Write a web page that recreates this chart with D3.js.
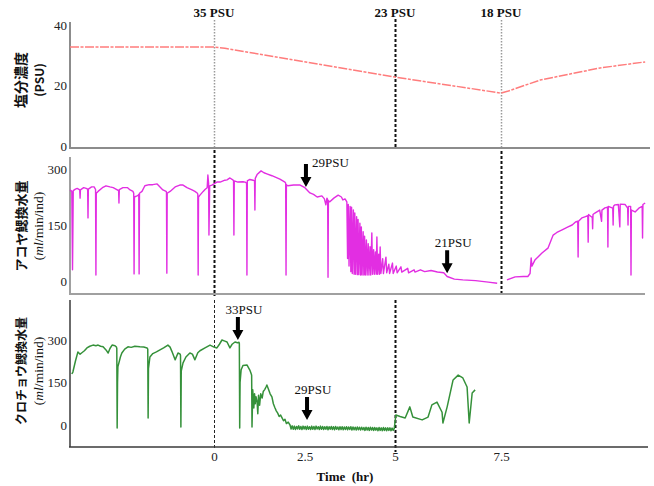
<!DOCTYPE html>
<html>
<head>
<meta charset="utf-8">
<script src="https://cdn.jsdelivr.net/npm/d3@7"></script>
<style>
body { margin: 0; background: #fff; }
svg { display: block; font-family: "Liberation Serif", "DejaVu Serif", serif; }
text { font-family: "Liberation Serif", "DejaVu Serif", serif; fill: #111; }
.jp { font-family: "Noto Sans CJK JP", sans-serif; font-weight: bold; }
</style>
</head>
<body>
<div class="chart"></div>
<script>
// ---- data (time in hr, salinity in PSU, flow in ml/min/ind) ----
const xTicks = [0, 2.5, 5, 7.5];
const salinityTicks = [0, 20, 40];
const flowTicks = [0, 150, 300];

const salinity = [[-4, 32.7], [0, 32.7], [0.3, 32.3], [5, 22.8], [7.5, 17.5], [7.7, 18.2],
  [8.55, 21.8], [10.16, 25.8], [11.37, 27.8]];

const psuMarks = [
  {t: 0, label: '35 PSU', kind: 'dot'},
  {t: 5, label: '23 PSU', kind: 'dash'},
  {t: 7.5, label: '18 PSU', kind: 'dot'}
];

// アコヤ
const akoya = [
  [-4.00,244],[-3.95,240],[-3.93,30],[-3.91,242],[-3.85,246],[-3.80,248],[-3.73,244],[-3.72,222],[-3.71,244],
  [-3.62,250],[-3.55,248],[-3.51,246],[-3.50,169],[-3.49,246],[-3.40,252],[-3.33,252],[-3.29,245],[-3.28,16],
  [-3.27,235],[-3.22,240],[-3.10,250],[-3.00,255],[-2.89,252],[-2.80,250],[-2.70,245],[-2.65,242],[-2.64,209],
  [-2.63,245],[-2.53,250],[-2.40,250],[-2.33,244],[-2.25,240],[-2.23,235],[-2.22,19],[-2.21,225],[-2.14,228],
  [-2.10,230],[-2.09,232],[-2.08,19],[-2.07,235],[-2.00,240],[-1.92,255],[-1.80,258],[-1.70,258],[-1.58,260],
  [-1.50,252],[-1.42,244],[-1.33,240],[-1.32,238],[-1.31,21],[-1.30,235],[-1.22,240],[-1.08,252],[-0.95,257],
  [-0.86,257],[-0.75,250],[-0.61,244],[-0.53,240],[-0.46,235],[-0.45,232],[-0.44,16],[-0.43,225],[-0.39,230],
  [-0.30,240],[-0.25,245],[-0.19,250],[-0.17,284],[-0.15,262],[-0.14,123],[-0.12,255],[-0.06,257],[0.08,265],
  [0.17,265],[0.30,270],[0.36,271],[0.44,276],[0.53,270],[0.54,268],[0.55,123],[0.56,268],[0.66,265],[0.80,266],
  [0.86,265],[0.90,262],[0.91,16],[0.92,268],[0.99,272],[1.08,270],[1.12,268],[1.13,190],[1.14,275],[1.19,285],
  [1.30,295],[1.38,290],[1.46,287],[1.60,282],[1.82,273],[1.96,265],[1.98,262],[1.99,16],[2.00,258],[2.04,255],
  [2.20,257],[2.38,257],[2.51,250],[2.65,236],[2.75,232],[2.85,225],[2.98,228],[3.05,220],[3.09,204],[3.12,222],
  [3.14,218],[3.15,10],[3.16,215],[3.20,212],[3.31,222],[3.43,230],[3.52,225],[3.56,217],[3.62,220],
  [3.67,212],[3.69,60],[3.71,205],[3.73,40],[3.76,200],[3.78,25],[3.80,198],[3.82,20],[3.85,190],[3.87,18],
  [3.89,182],[3.91,18],[3.94,172],[3.96,17],[3.98,165],[4.00,17],[4.03,155],[4.05,16],[4.07,145],[4.09,16],
  [4.12,132],[4.14,16],[4.16,120],[4.18,16],[4.21,110],[4.23,16],[4.26,100],[4.28,16],[4.31,92],[4.33,16],
  [4.36,129],[4.38,18],[4.41,84],[4.43,18],[4.46,78],[4.48,18],[4.50,118],[4.52,18],[4.55,72],[4.57,18],
  [4.59,91],[4.61,20],[4.66,60],[4.68,20],[4.75,64],[4.77,22],[4.83,45],[4.85,20],[4.93,48],[4.95,20],
  [5.03,40],[5.05,22],[5.14,38],[5.16,24],[5.30,34],[5.32,22],[5.45,30],[5.47,24],[5.60,30],[5.70,25],
  [5.85,28],[6.00,24],[6.15,22],[6.23,12],[6.40,5],[6.60,3],[6.90,1],[7.20,-3],[7.41,-6],
  [7.50,null],
  [7.66,3],[7.88,11],[8.10,12],[8.22,12],[8.28,20],[8.31,62],[8.33,40],[8.41,56],[8.50,65],[8.60,75],[8.76,88],
  [8.90,123],[9.00,130],[9.14,137],[9.30,145],[9.41,150],[9.50,158],[9.56,160],[9.57,64],[9.58,160],[9.67,169],
  [9.75,172],[9.83,175],[9.84,104],[9.85,178],[9.95,170],[9.96,140],[9.97,178],[10.02,182],[10.15,190],
  [10.20,160],[10.21,190],[10.29,196],[10.36,198],[10.37,91],[10.38,200],[10.50,195],[10.51,150],[10.52,200],
  [10.56,204],[10.65,205],[10.69,145],[10.70,206],[10.83,205],[10.90,195],[10.91,150],[10.92,200],[10.98,200],
  [10.99,16],[11.00,190],[11.10,185],[11.20,195],[11.29,200],[11.30,115],[11.31,205],[11.37,209]
];

// クロチョウ
const kurochou = [
  [-3.95,180],[-3.92,187],[-3.85,225],[-3.78,258],[-3.72,250],[-3.67,255],[-3.60,262],[-3.53,272],[-3.45,278],
  [-3.36,282],[-3.28,280],[-3.22,282],[-3.15,278],[-3.08,276],[-3.00,265],[-2.94,254],[-2.89,270],[-2.83,282],
  [-2.75,280],[-2.71,275],[-2.70,270],[-2.69,-11],[-2.68,150],[-2.67,205],[-2.60,240],[-2.56,254],[-2.48,268],
  [-2.39,276],[-2.30,274],[-2.20,278],[-2.06,276],[-1.95,275],[-1.86,272],[-1.84,268],[-1.83,25],[-1.82,200],
  [-1.78,240],[-1.70,252],[-1.60,258],[-1.50,265],[-1.40,272],[-1.28,282],[-1.22,275],[-1.17,260],[-1.08,230],
  [-1.00,254],[-0.94,250],[-0.93,245],[-0.92,-7],[-0.91,190],[-0.86,219],[-0.78,240],[-0.67,254],[-0.60,250],
  [-0.53,230],[-0.45,255],[-0.39,262],[-0.25,272],[-0.11,282],[0.00,275],[0.08,272],[0.15,285],[0.22,300],
  [0.30,296],[0.36,293],[0.44,272],[0.50,285],[0.58,293],[0.65,290],[0.69,292],[0.70,288],[0.71,-11],[0.72,150],
  [0.75,195],[0.80,210],[0.91,212],[0.99,194],[1.03,180],[1.04,175],[1.05,-7],[1.07,124],[1.10,60],[1.12,110],
  [1.14,75],[1.16,100],[1.19,81],[1.21,40],[1.23,105],[1.26,70],[1.29,110],[1.33,95],[1.36,118],[1.40,125],
  [1.44,135],[1.46,141],[1.50,128],[1.55,110],[1.60,99],[1.64,75],[1.68,62],[1.72,50],[1.76,42],[1.80,30],
  [1.84,35],[1.88,25],[1.92,15],[1.96,20],[2.00,5],[2.05,10],
  [2.10,0],[2.13,-14],[2.16,-3],[2.19,-15],[2.22,-4],[2.25,-16],[2.28,-5],[2.31,-14],[2.34,-3],[2.37,-15],
  [2.40,-5],[2.43,-16],[2.46,-4],[2.49,-14],[2.52,-5],[2.55,-16],[2.58,-4],[2.61,-15],[2.64,-6],[2.67,-16],
  [2.70,-4],[2.73,-15],[2.76,-5],[2.79,-16],[2.82,-4],[2.85,-14],[2.88,-6],[2.91,-16],[2.94,-4],[2.97,-15],
  [3.00,-5],[3.03,-16],[3.06,-6],[3.09,-15],[3.12,-5],[3.15,-17],[3.18,-6],[3.21,-15],[3.24,-5],[3.27,-16],
  [3.30,-6],[3.33,-17],[3.36,-5],[3.39,-15],[3.42,-7],[3.45,-17],[3.48,-6],[3.51,-16],[3.54,-6],[3.57,-17],
  [3.60,-7],[3.63,-16],[3.66,-6],[3.69,-17],[3.72,-7],[3.75,-16],[3.78,-6],[3.81,-18],[3.84,-7],[3.87,-17],
  [3.90,-8],[3.93,-18],[3.96,-7],[3.99,-17],[4.02,-8],[4.05,-18],[4.08,-8],[4.11,-17],[4.14,-9],[4.17,-19],
  [4.20,-8],[4.23,-18],[4.26,-9],[4.29,-19],[4.32,-8],[4.35,-18],[4.38,-9],[4.41,-19],[4.44,-9],[4.47,-18],
  [4.50,-10],[4.53,-20],[4.56,-9],[4.59,-19],[4.62,-10],[4.65,-20],[4.68,-9],[4.71,-19],[4.74,-10],[4.77,-20],
  [4.80,-10],[4.83,-19],[4.86,-10],[4.89,-20],[4.92,-11],[4.95,-19],[4.98,-12],
  [5.02,35],[5.12,30],[5.24,25],[5.35,64],[5.42,28],[5.64,18],[5.78,28],[5.87,71],[5.99,81],[6.11,45],
  [6.13,7],[6.23,64],[6.37,159],[6.49,176],[6.60,166],[6.70,134],[6.75,7],[6.82,113],[6.89,124]
];

const akoyaNotes = [
  {t: 2.54, v: 252, label: '29PSU', side: 'right'},
  {t: 6.23, v: 21, label: '21PSU', side: 'top'}
];
const kuroNotes = [
  {t: 0.66, v: 300, label: '33PSU', side: 'top'},
  {t: 2.57, v: 18, label: '29PSU', side: 'top'}
];

// ---- layout ----
const svg_width = 654, svg_height = 486;
const axis_x = 70;

// time axis is stretched differently on each side of the switch points, as in the source figure
const x = d3.scaleLinear().domain([-4, 0, 5, 7.5, 11.5]).range([70, 214, 395, 501, 650]);

const panels = {
  sal:  {top: 22,  bottom: 148, right: 650, y: d3.scaleLinear().domain([0, 40]).range([146, 25])},
  ako:  {top: 157, bottom: 294, right: 645, y: d3.scaleLinear().domain([0, 300]).range([281, 169])},
  kuro: {top: 300, bottom: 447, right: 648, y: d3.scaleLinear().domain([0, 300]).range([425, 340])}
};

const svg = d3.select('.chart').append('svg')
  .attr('width', svg_width)
  .attr('height', svg_height);

// vertical switch lines
const vlines = [
  {p: 'sal', t: 0, kind: 'dot', y0: 20, y1: 148},
  {p: 'sal', t: 5, kind: 'dash', y0: 19, y1: 148},
  {p: 'sal', t: 7.5, kind: 'dot', y0: 20, y1: 148},
  {p: 'ako', t: 0, kind: 'dash', y0: 150, y1: 296},
  {p: 'ako', t: 7.5, kind: 'dash', y0: 151, y1: 296},
  {p: 'kuro', t: 0, kind: 'thin', y0: 300, y1: 448},
  {p: 'kuro', t: 5, kind: 'dash', y0: 300, y1: 452}
];
const vstyle = {
  dot:  {stroke: '#9a9a9a', width: 1.5, dash: '1.5,1.5'},
  dash: {stroke: '#111', width: 2, dash: '3,2'},
  thin: {stroke: '#222', width: 1, dash: '3,2'}
};
svg.append('g').selectAll('line')
  .data(vlines)
  .enter()
  .append('line')
  .attr('x1', d => Math.round(x(d.t)) + 0.5)
  .attr('x2', d => Math.round(x(d.t)) + 0.5)
  .attr('y1', d => d.y0)
  .attr('y2', d => d.y1)
  .style('stroke', d => vstyle[d.kind].stroke)
  .style('stroke-width', d => vstyle[d.kind].width)
  .style('stroke-dasharray', d => vstyle[d.kind].dash);

// panel axes (left + bottom lines)
const axisColor = {sal: '#8c8c8c', ako: '#a0a0a0', kuro: '#3a3a3a'};
Object.entries(panels).forEach(([key, p]) => {
  const g = svg.append('g').attr('class', 'frame ' + key);
  g.append('line')
    .attr('x1', axis_x).attr('x2', axis_x)
    .attr('y1', p.top).attr('y2', p.bottom)
    .style('stroke', axisColor[key]).style('stroke-width', key === 'kuro' ? 1.5 : 2);
  g.append('line')
    .attr('x1', axis_x - 1).attr('x2', p.right)
    .attr('y1', p.bottom).attr('y2', p.bottom)
    .style('stroke', axisColor[key]).style('stroke-width', key === 'kuro' ? 1.5 : 2);
});

// y tick labels
function yLabels(p, ticks) {
  const ax = svg.append('g')
    .attr('transform', `translate(${axis_x}, 0)`)
    .attr('font-family', null)
    .call(d3.axisLeft(p.y).tickValues(ticks).tickFormat(d => d).tickSize(0).tickPadding(3));
  ax.attr('font-family', null);
  ax.select('.domain').remove();
  ax.selectAll('text')
    .style('font-size', '13px')
    .style('fill', '#222');
}
yLabels(panels.sal, salinityTicks);
yLabels(panels.ako, flowTicks);
yLabels(panels.kuro, flowTicks);

// x axis at bottom
const xAx = svg.append('g')
  .attr('transform', `translate(0, ${panels.kuro.bottom})`)
  .call(d3.axisBottom(x).tickValues(xTicks).tickFormat(d => d).tickSize(0).tickPadding(5));
xAx.attr('font-family', null);
xAx.select('.domain').remove();
xAx.selectAll('text')
  .style('font-size', '13px')
  .style('fill', '#222');

svg.append('text')
  .attr('x', 345)
  .attr('y', 481)
  .attr('text-anchor', 'middle')
  .style('font-size', '13px')
  .style('font-weight', 'bold')
  .style('white-space', 'pre')
  .text('Time  (hr)');

// top PSU labels
svg.append('g').selectAll('text')
  .data(psuMarks)
  .enter()
  .append('text')
  .attr('x', d => x(d.t))
  .attr('y', 17)
  .attr('text-anchor', 'middle')
  .style('font-size', '13px')
  .style('font-weight', 'bold')
  .text(d => d.label);

// series
function draw_series(p, data, color, width, dash) {
  const line = d3.line()
    .defined(d => d[1] !== null)
    .x(d => x(d[0]))
    .y(d => p.y(d[1]));
  svg.append('path')
    .datum(data)
    .attr('d', line)
    .style('fill', 'none')
    .style('stroke', color)
    .style('stroke-width', width)
    .style('stroke-linejoin', 'round')
    .style('stroke-dasharray', dash || null);
}
draw_series(panels.sal, salinity, '#ff7c7c', 1.5, '9,1.5,3,1.5');
draw_series(panels.ako, akoya, '#e22ee2', 1.4);
draw_series(panels.kuro, kurochou, '#35913a', 1.5);

// arrows + labels
function draw_notes(p, notes) {
  const g = svg.append('g').attr('class', 'notes');
  notes.forEach(n => {
    const tx = x(n.t), ty = p.y(n.v);
    const pts = [[tx - 2, ty - 23], [tx + 2, ty - 23], [tx + 2, ty - 10], [tx + 5.5, ty - 10],
                 [tx, ty], [tx - 5.5, ty - 10], [tx - 2, ty - 10]];
    g.append('path')
      .attr('d', d3.line()(pts) + 'Z')
      .style('fill', '#000');
    const t = g.append('text')
      .style('font-size', '13px')
      .text(n.label);
    if (n.side === 'right') {
      t.attr('x', tx + 6).attr('y', ty - 20).attr('text-anchor', 'start');
    } else {
      t.attr('x', tx + 6).attr('y', ty - 26).attr('text-anchor', 'middle');
    }
  });
}
draw_notes(panels.ako, akoyaNotes);
draw_notes(panels.kuro, kuroNotes);

// y axis titles (rotated)
function yTitle(cy, title, size, sub) {
  const g = svg.append('g');
  g.append('text')
    .attr('class', 'jp')
    .attr('transform', `translate(20, ${cy}) rotate(-90)`)
    .attr('text-anchor', 'middle')
    .attr('dominant-baseline', 'central')
    .style('font-size', size + 'px')
    .text(title);
  const s = g.append('text')
    .attr('transform', `translate(38, ${cy}) rotate(-90)`)
    .attr('text-anchor', 'middle')
    .attr('dominant-baseline', 'central')
    .style('font-size', '13.5px');
  if (sub === 'PSU') {
    s.attr('class', 'jp').style('font-size', '12px').text('(PSU)');
  } else {
    s.append('tspan').text('(');
    s.append('tspan').style('font-style', 'italic').text('ml');
    s.append('tspan').text('/min/ind)');
  }
}
yTitle(80, '塩分濃度', 14, 'PSU');
yTitle(226, 'アコヤ鰓換水量', 13, 'flow');
yTitle(371, 'クロチョウ鰓換水量', 12, 'flow');
</script>
</body>
</html>
